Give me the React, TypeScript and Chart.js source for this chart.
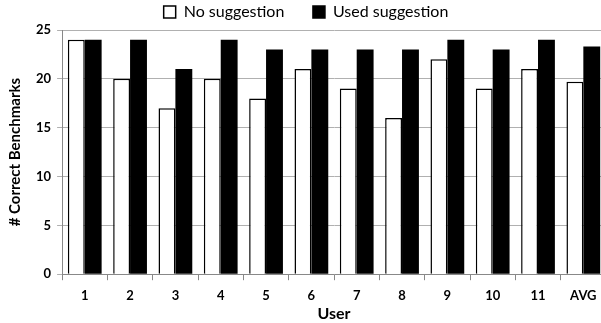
import React, { useEffect, useRef } from "react";
import { Chart, registerables } from "chart.js";

Chart.register(...registerables);

const categories = ["1", "2", "3", "4", "5", "6", "7", "8", "9", "10", "11", "AVG"];
const noSuggestion = [24, 20, 17, 20, 18, 21, 19, 16, 22, 19, 21, 19.7];
const usedSuggestion = [24, 24, 21, 24, 23, 23, 23, 23, 24, 23, 24, 23.3];
const seriesNames = ["No suggestion", "Used suggestion"];

const FONT = "Lato, 'Open Sans', sans-serif";

export default function App() {
  const ref = useRef<HTMLCanvasElement | null>(null);
  useEffect(() => {
    if (!ref.current) return;
    const chart = new Chart(ref.current, {
      type: "bar",
      data: {
        labels: categories,
        datasets: [
          {
            label: seriesNames[0],
            data: noSuggestion,
            backgroundColor: "#ffffff",
            borderColor: "#000000",
            borderWidth: 1.5,
            borderSkipped: "bottom",
          },
          {
            label: seriesNames[1],
            data: usedSuggestion,
            backgroundColor: "#000000",
            borderColor: "#000000",
            borderWidth: 0,
          },
        ],
      },
      options: {
        animation: false,
        responsive: false,
        maintainAspectRatio: false,
        layout: { padding: { left: 6, right: 0, top: 0, bottom: 0 } },
        datasets: { bar: { barPercentage: 1, categoryPercentage: 0.745 } },
        plugins: {
          tooltip: { enabled: false },
          legend: {
            position: "top",
            labels: {
              boxWidth: 12,
              boxHeight: 12,
              color: "#000",
              padding: 4,
              font: { family: FONT, size: 16 },
              generateLabels: (c: any) => {
                const items = Chart.defaults.plugins.legend.labels.generateLabels(c);
                items.forEach((it: any, i: number) => {
                  it.lineWidth = 1.5;
                  it.strokeStyle = "#000";
                  if (i === 0) it.text = it.text + "\u00a0\u00a0\u00a0\u00a0\u00a0\u00a0";
                });
                return items;
              },
            },
          },
        },
        scales: {
          x: {
            grid: {
              offset: true,
              drawOnChartArea: false,
              drawTicks: true,
              tickLength: 6,
              color: "#888",
            },
            border: { color: "#888", width: 1 },
            ticks: { color: "#000", font: { family: FONT, size: 13, weight: "bold" }, padding: 8 },
            title: {
              display: true,
              text: "User",
              color: "#000",
              font: { family: FONT, size: 16, weight: "bold" },
              padding: { top: -8, bottom: 0 },
            },
          },
          y: {
            min: 0,
            max: 25,
            ticks: {
              stepSize: 5,
              color: "#000",
              font: { family: FONT, size: 13, weight: "bold" },
              padding: 6,
            },
            grid: { color: "#b0b0b0", tickLength: 5 },
            border: { color: "#888", width: 1 },
            title: {
              display: true,
              text: "# Correct Benchmarks",
              color: "#000",
              font: { family: FONT, size: 15, weight: "bold" },
              padding: { top: 0, bottom: 6 },
            },
          },
        },
      },
    });
    return () => chart.destroy();
  }, []);
  return (
    <div style={{ position: "fixed", left: 0, top: 0, width: 601, height: 323, overflow: "hidden", background: "#fff" }}>
      <canvas ref={ref} width={606} height={323} style={{ display: "block", width: 606, height: 323 }} />
    </div>
  );
}
